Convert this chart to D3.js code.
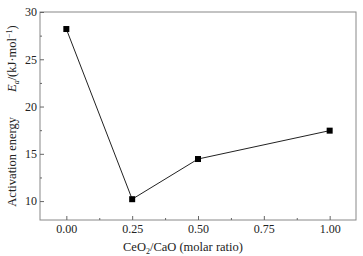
<!DOCTYPE html>
<html><head><meta charset="utf-8">
<script src="https://cdn.jsdelivr.net/npm/d3@7"></script>
<style>body{margin:0;background:#fff}svg{display:block}</style>
</head><body>
<svg id="c" width="363" height="256"></svg>
<script>
const ratios = [0, 0.25, 0.5, 1.0];
const energies = [28.2, 10.2, 14.45, 17.45];
const xTicks = [0, 0.25, 0.5, 0.75, 1.0];
const yTicks = [10, 15, 20, 25, 30];

const svg = d3.select("#c");
const L = 40, R = 356, T = 12, B = 220;
const x = d3.scaleLinear().domain([-0.1, 1.1]).range([L, R]);
const y = d3.scaleLinear().domain([8, 30]).range([B, T]);
const font = "'Liberation Serif','Times New Roman',serif";

svg.append("rect").attr("x", L).attr("y", T).attr("width", R - L).attr("height", B - T)
  .attr("fill", "none").attr("stroke", "#888").attr("stroke-width", 1);

const gx = svg.append("g").attr("transform", `translate(0,${B})`)
  .call(d3.axisBottom(x).tickValues(xTicks).tickFormat(d3.format(".2f")).tickSizeInner(-4).tickSizeOuter(0).tickPadding(4.5));
const gxm = svg.append("g").attr("transform", `translate(0,${B})`)
  .call(d3.axisBottom(x).tickValues([0.125, 0.375, 0.625, 0.875]).tickFormat("").tickSizeInner(-2).tickSizeOuter(0));
const gy = svg.append("g").attr("transform", `translate(${L},0)`)
  .call(d3.axisLeft(y).tickValues(yTicks).tickSizeInner(-4).tickSizeOuter(0).tickPadding(3));
const gym = svg.append("g").attr("transform", `translate(${L},0)`)
  .call(d3.axisLeft(y).tickValues([12.5, 17.5, 22.5, 27.5]).tickFormat("").tickSizeInner(-2).tickSizeOuter(0));
[gx, gxm, gy, gym].forEach(g => {
  g.select(".domain").remove();
  g.selectAll("line").attr("stroke", "#666");
  g.selectAll("text").attr("font-family", font).attr("font-size", 12).attr("fill", "#222");
});

const data = ratios.map((r, i) => [r, energies[i]]);
svg.append("path").datum(data)
  .attr("d", d3.line().x(d => x(d[0])).y(d => y(d[1])))
  .attr("fill", "none").attr("stroke", "#222").attr("stroke-width", 1);
svg.selectAll("rect.m").data(data).enter().append("rect").attr("class", "m")
  .attr("x", d => x(d[0]) - 3).attr("y", d => y(d[1]) - 3)
  .attr("width", 6).attr("height", 6).attr("fill", "#000");

const xl = svg.append("text").attr("x", 183).attr("y", 251).attr("text-anchor", "middle")
  .attr("font-family", font).attr("font-size", 12.5).attr("fill", "#222");
xl.append("tspan").text("CeO");
xl.append("tspan").attr("font-size", 8).attr("dy", 3).text("2");
xl.append("tspan").attr("dy", -3).text("/CaO (molar ratio)");

const yl = svg.append("text").attr("transform", "translate(16,116) rotate(-90)")
  .attr("text-anchor", "middle").attr("font-family", font).attr("font-size", 12.5).attr("fill", "#222");
yl.append("tspan").text("Activation energy\u2003\u2003");
yl.append("tspan").attr("font-style", "italic").text("E");
yl.append("tspan").attr("font-style", "italic").attr("font-size", 8).attr("dy", 3).text("a");
yl.append("tspan").attr("dy", -3).text("/(kJ\u00b7mol");
yl.append("tspan").attr("font-size", 8).attr("dy", -4).text("\u22121");
yl.append("tspan").attr("dy", 4).text(")");
</script>
</body></html>
